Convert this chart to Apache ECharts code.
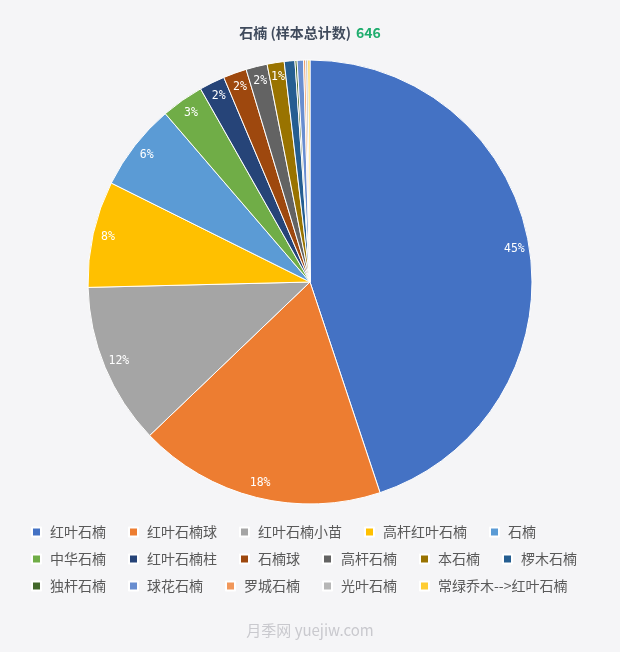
<!DOCTYPE html>
<html>
<head>
<meta charset="utf-8">
<script src="https://cdn.jsdelivr.net/npm/echarts@6/dist/echarts.min.js"></script>
<style>
html,body{margin:0;padding:0;background:#f5f5f7;}
#chart{width:620px;height:652px;}
</style>
</head>
<body>
<div id="chart"></div>
<script>
const categories = ['红叶石楠','红叶石楠球','红叶石楠小苗','高杆红叶石楠','石楠','中华石楠','红叶石楠柱','石楠球','高杆石楠','本石楠','椤木石楠','独杆石楠','球花石楠','罗城石楠','光叶石楠','常绿乔木-->红叶石楠'];
const counts = [290,116,76,50,41,20,12,11,10,8,5,1,3,1,1,1];
const colors = ['#4472C4','#ED7D31','#A5A5A5','#FFC000','#5B9BD5','#70AD47','#264478','#9E480E','#636363','#997300','#255E91','#43682B','#698ED0','#F1975A','#B7B7B7','#FFCD33'];
const titleMain = '石楠 (样本总计数)';
const titleTotal = 646;
const legendRows = [
  ['红叶石楠','红叶石楠球','红叶石楠小苗','高杆红叶石楠','石楠'],
  ['中华石楠','红叶石楠柱','石楠球','高杆石楠','本石楠','椤木石楠'],
  ['独杆石楠','球花石楠','罗城石楠','光叶石楠','常绿乔木-->红叶石楠']
];

const data = categories.map((n,i)=>({name:n,value:counts[i]}));
const font = "'Noto Sans CJK SC','Noto Sans',sans-serif";
const chart = echarts.init(document.getElementById('chart'));
const legendTops = [525, 552, 579];
chart.setOption({
  backgroundColor:'#f5f5f7',
  color: colors,
  title:{
    text:'{a|'+titleMain+'} {b|'+titleTotal+'}',
    left:'center', top:19,
    textStyle:{
      rich:{
        a:{fontSize:14,fontWeight:'bold',color:'#3f4a5c',fontFamily:font},
        b:{fontSize:14,fontWeight:'bold',color:'#1fad6e',fontFamily:font}
      }
    }
  },
  legend: legendRows.map((row,i)=>({
    data:row, left:31, top:legendTops[i], orient:'horizontal', padding:0,
    itemWidth:9, itemHeight:9, itemGap:22, icon:'rect',
    textStyle:{fontSize:14,color:'#595959',fontFamily:font,padding:[0,0,0,4]}
  })),
  graphic:[{
    type:'text', left:'center', top:623,
    style:{text:'月季网 yuejiw.com', fill:'#c9c9ce', fontSize:15, fontFamily:"'Noto Sans CJK SC','Open Sans',sans-serif"}
  }],
  series:[
    {
      type:'pie', center:[310,282], radius:[0,222], startAngle:90, clockwise:true,
      avoidLabelOverlap:false, animation:false,
      itemStyle:{borderColor:'#ffffff',borderWidth:1},
      label:{show:false}, labelLine:{show:false},
      emphasis:{disabled:true},
      data:data
    },
    {
      type:'pie', center:[310,282], radius:[186,222], startAngle:90, clockwise:true,
      avoidLabelOverlap:false, animation:false, silent:true, legendHoverLink:false,
      itemStyle:{color:'rgba(0,0,0,0)',borderWidth:0},
      label:{show:true, position:'inside', color:'#ffffff', fontSize:11.5,
        fontFamily:"'DejaVu Sans Mono',monospace",
        formatter:p=> p.percent>=1 ? Math.round(p.percent)+'%' : ''},
      labelLine:{show:false},
      emphasis:{disabled:true},
      data:data
    }
  ]
});
</script>
</body>
</html>
